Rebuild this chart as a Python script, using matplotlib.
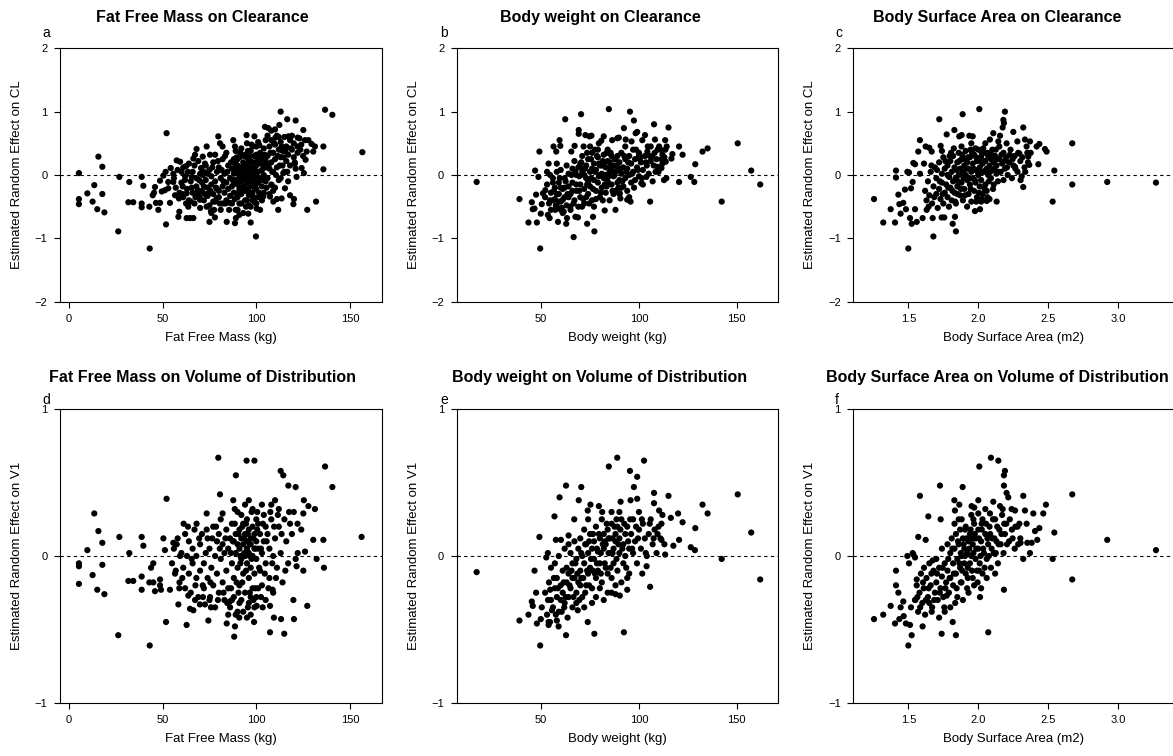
import matplotlib
matplotlib.use("Agg")
import matplotlib.pyplot as plt
from matplotlib.ticker import FormatStrFormatter

plt.rcParams['font.family'] = ['Liberation Sans', 'DejaVu Sans']

# (covariate, random effect) pairs

ffm_cl = [
    (5.3,.03),(5.3,-.38),(5.3,-.46),(9.8,-.29),(12.6,-.42),(13.5,-.16),(15.1,-.54),(15.7,.29),(17.8,.13),(17.8,-.30),
    (18.9,-.59),(26.3,-.89),(26.9,-.03),(32.2,-.11),(31.7,-.43),(34.3,-.43),(38.8,-.03),(39.7,-.17),(38.8,-.45),(38.8,-.51),
    (42.9,-.50),(43.1,-1.16),(44.7,-.32),(45.4,-.28),(45.9,-.19),(46.4,-.44),(47.7,-.55),(48.6,-.44),(48.6,-.09),(49.5,-.26),
    (50.4,-.01),(51.6,.05),(52.1,.66),(51.8,-.78),(53.0,-.11),(53.9,-.44),(54.3,.11),(55.7,.02),(51.2,-.24),(53.0,-.21),
    (55.7,-.11),(56.6,-.32),(57.5,.23),(58.7,-.37),(58.4,-.66),(59.3,.21),(58.9,-.58),(60.1,.05),(60.7,-.18),(61.9,-.08),
    (62.5,.14),(62.8,-.29),(63.7,-.50),(62.8,-.68),(64.6,-.68),(66.4,-.68),(65.5,-.03),(65.0,-.42),(66.4,.26),(67.3,.32),
    (68.1,.41),(68.7,-.24),(69.6,-.34),(69.9,-.39),(70.5,.11),(71.4,.29),(72.6,.18),(73.5,.45),(74.4,-.29),(75.0,-.74),
    (75.3,.32),(75.8,-.57),(77.0,-.42),(77.9,-.67),(78.8,-.37),(79.7,.61),(80.6,.50),(82.0,.45),(83.3,.30),(84.2,-.74),
    (85.9,-.44),(87.7,.55),(88.6,.45),(88.6,-.76),(89.1,-.68),(90.0,-.55),(90.9,-.63),(94.8,.63),(95.7,-.61),(97.0,-.75),
    (99.0,.61),(99.8,-.97),(100.2,-.53),(101.6,.47),(103.7,-.34),(104.6,.76),(106.4,.74),(107.3,-.34),(108.2,-.16),(109.1,-.42),
    (110.2,.59),(111.7,-.55),(112.3,.79),(113.0,1.00),(113.5,-.37),(114.4,.03),(115.3,-.21),(116.5,.88),(117.1,.61),(118.0,-.32),
    (119.8,-.46),(120.1,-.38),(120.6,.18),(121.0,.86),(122.1,.59),(121.9,.45),(121.5,-.03),(124.2,.11),(125.1,.71),(125.4,.03),
    (126.3,.24),(126.9,.37),(127.2,-.55),(127.8,.55),(129.5,.49),(130.4,.37),(131.3,.45),(131.9,-.42),(135.8,.45),(135.8,.09),
    (136.7,1.03),(140.6,.95),(156.6,.36),
    (56,-.05),(57,-.20),(58,.08),(59,-.28),(60,-.12),(61,.12),(61,-.35),(62,-.02),(63,-.22),(64,.18),
    (64,-.40),(65,-.10),(66,.05),(66,-.28),(67,-.45),(67,.15),(68,-.05),(68,-.18),(69,.22),(69,-.30),
    (70,-.52),(70,.02),(71,-.12),(71,-.25),(72,.05),(72,-.40),(73,.15),(73,-.08),(74,-.20),(74,-.33),
    (75,.08),(75,-.48),(76,-.02),(76,-.15),(77,.20),(77,-.30),(78,-.10),(78,-.42),(79,.05),(79,-.22),
    (80,-.35),(80,.12),(81,-.05),(81,-.55),(82,.25),(82,-.18),(83,-.28),(83,.02),(84,-.12),(84,-.40),
    (85,.15),(85,-.22),(76,-.60),(78,.32),(80,-.25),(82,-.45),(84,.35),(74,.02),(72,-.18),(70,-.38),
    (86,-.05),(86,-.33),(87,.10),(87,-.18),(87,-.45),(88,.02),(88,.25),(88,-.28),(89,-.08),(89,.38),
    (89,-.55),(90,.15),(90,-.15),(90,-.35),(90,.05),(91,.28),(91,-.02),(91,-.22),(91,-.45),(92,.12),
    (92,-.10),(92,.42),(92,-.30),(93,.05),(93,.20),(93,-.18),(93,-.60),(94,-.05),(94,.32),(94,-.25),
    (94,.10),(95,.00),(95,.18),(95,-.12),(95,-.40),(95,.50),(96,.08),(96,-.20),(96,.25),(96,-.32),
    (97,-.05),(97,.12),(97,.38),(97,-.50),(98,.02),(98,.20),(98,-.15),(98,-.28),(99,.10),(99,-.08),
    (99,.30),(99,-.42),(100,.15),(100,-.02),(100,.45),(100,-.22),(101,.05),(101,.25),(101,-.35),(101,-.12),
    (102,.18),(102,-.05),(102,.35),(102,-.55),(103,.08),(103,-.18),(103,.28),(104,.00),(104,.42),(104,-.28),
    (105,.12),(105,-.10),(105,.55),(105,.22),(93,.00),(94,-.40),(96,-.48),(97,.22),(98,.45),(99,-.20),
    (95,.28),(92,.00),(91,.10),(90,.25),(89,.18),(88,-.12),(100,.32),(101,.52),(103,-.40),(104,.15),
    (97,-.30),(96,-.05),(94,.15),(92,-.45),(98,-.40),(100,-.45),(102,-.30),
    (106,.30),(106,-.05),(107,.45),(107,.10),(108,.20),(108,-.15),(108,.55),(109,.05),(109,.35),(110,.25),
    (110,-.20),(110,.48),(111,.12),(111,.62),(112,.40),(112,-.08),(113,.28),(113,.52),(114,.15),(114,.38),
    (115,.05),(115,.60),(116,.22),(116,.45),(117,.32),(117,-.10),(118,.55),(118,.15),(119,.40),(119,.62),
    (120,.28),(120,.50),(121,.10),(122,.35),(123,.58),(124,.48),(125,.30),(126,.55),(107,-.30),(109,-.25),
    (111,-.38),(113,-.05),(106,.62),(108,.70),(110,.72),(112,.60),
    (60.5,-.30),(62.5,-.45),(63.5,.05),(65.5,-.20),(67.5,-.35),(69.5,-.08),(71.5,.00),(72.5,-.30),(73.5,-.50),(75.5,-.25),
    (76.5,.12),(77.5,-.55),(78.5,-.20),(79.5,.22),(80.5,-.45),(81.5,.08),(82.5,-.10),(83.5,-.45),(84.5,.05),(85.5,-.55),
    (86.5,.20),(87.5,-.08),(88.5,-.38),(89.5,.05),(90.5,-.28),(91.5,.35),(92.5,-.20),(93.5,.12),(94.5,-.50),(95.5,.38),
    (96.5,-.10),(97.5,.02),(98.5,-.35),(99.5,.20),(100.5,.05),(101.5,-.28),(102.5,.25),(103.5,-.08),(104.5,.32),(105.5,-.20),
    (106.5,.15),(107.5,.35),(108.5,.05),(109.5,.50),(110.5,.00),(111.5,.30),(112.5,.15),(113.5,.45),(114.5,.28),(115.5,.38),
    (116.5,.05),(118.5,.42),(120.5,.20),(123.5,.40),(93.5,.30),(95.5,-.25),(97.5,.48),(99.5,-.15),(91.5,-.10),(89.5,.28),
    (88.5,.12),(96.5,.30),(98.5,.10),(100.5,-.12),(94.5,.05),
]

bw_cl = [
    (17.0,-.11),(38.9,-.38),(43.5,-.75),(45.2,-.43),(45.7,-.54),(46.6,-.53),(46.9,.07),(47.4,-.31),(47.8,-.75),(48.6,-.03),
    (49.1,.37),(49.5,-1.16),(49.8,-.61),(50.3,-.46),(50.9,-.29),(52.1,-.24),(53.0,.05),(53.4,-.63),(53.8,.18),(54.3,-.68),
    (54.6,.00),(56.0,-.12),(56.3,.45),(57.2,-.55),(57.7,.37),(58.0,.18),(58.6,-.74),(58.9,-.42),(59.4,.55),(59.8,.46),
    (60.1,-.55),(61.1,-.39),(61.5,-.58),(62.3,.88),(62.8,-.77),(63.2,-.68),(64.9,-.50),(65.4,.37),(66.6,-.98),(67.1,.46),
    (67.5,-.66),(68.8,-.67),(69.2,.71),(69.2,.65),(70.4,.96),(70.9,-.50),(71.7,.45),(72.6,.63),(73.5,-.77),(74.7,.61),
    (75.7,.62),(76.5,-.66),(77.2,-.89),(79.5,.50),(80.7,.54),(82.0,.61),(82.5,-.56),(84.6,1.04),(85.1,.34),(86.3,.55),
    (88.0,-.55),(88.9,.58),(89.7,.59),(90.2,-.29),(90.5,-.37),(92.3,.74),(93.2,.56),(94.0,-.39),(95.4,1.00),(95.7,-.42),
    (96.2,.53),(97.4,.86),(98.3,.66),(99.1,.68),(100.0,.30),(101.2,-.13),(101.7,.55),(103.1,.63),(103.8,-.03),(104.3,.37),
    (105.7,-.42),(106.0,.45),(106.8,.29),(107.7,.80),(108.2,.56),(109.4,.13),(110.3,.45),(111.5,.11),(112.0,.32),(112.8,-.08),
    (113.4,.55),(113.7,.21),(114.2,.45),(115.1,.75),(116.6,.26),(117.1,.33),(120.5,.45),(120.5,-.11),(122.3,.32),(126.5,-.03),
    (128.3,-.11),(128.8,.17),(132.5,.37),(135.1,.42),(142.3,-.42),(150.5,.50),(157.4,.07),(162.0,-.15),
    (52,-.35),(53,-.15),(54,-.45),(55,-.28),(55,-.55),(56,-.05),(57,-.38),(57,-.20),(58,.05),(58,-.50),
    (59,-.30),(59,-.12),(60,-.42),(60,.08),(61,-.22),(61,-.60),(62,-.05),(62,-.35),(63,.15),(63,-.48),
    (64,-.18),(64,.02),(65,-.30),(65,-.55),(66,.10),(66,-.12),(67,-.40),(67,.22),(68,-.25),(68,.00),
    (69,-.50),(69,.12),(70,-.15),(70,-.35),(71,.05),(71,.30),(72,-.22),(72,-.45),(73,.15),(73,-.05),
    (74,-.30),(74,.25),(75,.05),(75,-.18),(76,.35),(76,-.40),(77,-.08),(77,.18),(78,-.25),(78,.08),
    (79,.28),(79,-.12),(80,-.35),(80,.15),(81,.02),(81,-.20),(82,.32),(82,-.05),(83,.12),(83,-.28),
    (84,.22),(84,-.10),(85,.05),(85,-.40),(86,.30),(86,-.15),(87,.15),(87,-.02),(88,-.25),(88,.25),
    (89,.08),(89,-.12),(90,.20),(90,-.30),(91,.02),(91,.35),(92,-.18),(92,.12),(93,.25),(93,-.05),
    (94,.10),(94,-.25),(95,.30),(95,.00),(96,.18),(96,-.12),(97,.40),(97,.05),(98,-.08),(98,.25),
    (99,.12),(100,-.02),(100,.35),(101,.20),(102,.08),(102,-.15),(103,.30),(104,.15),(105,.02),(106,.22),
    (107,-.10),(108,.35),(109,.25),(110,.05),(111,.40),(112,.18),(113,.28),(114,-.05),
    (72,.00),(74,-.12),(76,.10),(78,-.38),(80,.00),(82,.18),(84,.40),(86,.08),(88,.05),(90,-.08),
    (79,.40),(77,-.50),(75,.45),(73,-.35),(85,.20),(87,-.30),(83,.00),(81,.15),(89,.30),(91,-.20),
    (93,.45),(95,-.35),(70,.18),(68,-.15),(66,-.25),(64,-.35),(62,-.20),(60,-.20),(58,-.30),(56,-.40),
    (54.5,-.40),(56.5,-.25),(57.5,-.48),(59.5,-.05),(60.5,-.52),(62.5,-.10),(63.5,-.30),(65.5,.00),(66.5,-.45),(67.5,.05),
    (69.5,-.25),(70.5,.20),(71.5,-.38),(72.5,.10),(73.5,-.15),(74.5,-.45),(75.5,.25),(76.5,-.22),(77.5,.05),(78.5,.30),
    (79.5,-.02),(80.5,-.28),(81.5,.22),(82.5,-.15),(83.5,.35),(84.5,-.02),(85.5,.12),(86.5,-.25),(87.5,.25),(88.5,.15),
    (89.5,-.20),(90.5,.10),(91.5,-.10),(92.5,.30),(93.5,.05),(94.5,.20),(96.5,.02),(97.5,-.20),(98.5,.40),(99.5,.08),
    (100.5,.25),(101.5,-.05),(103.5,.20),(104.5,.45),(105.5,.30),(107.5,.15),(108.5,.05),(109.5,.40),(111.5,.25),(113.5,.40),
    (75.5,-.05),(77.5,.40),(79.5,.18),(81.5,-.40),(83.5,-.18),(85.5,.35),(87.5,.00),(71.5,.10),(73.5,.35),(69.5,-.02),
]

bsa_cl = [
    (1.255,-.38),(1.321,-.75),(1.374,-.54),(1.405,-.75),(1.412,.07),(1.412,-.04),(1.429,-.31),(1.436,-.46),(1.445,-.61),(1.464,-.44),
    (1.476,-.23),(1.483,-.54),(1.493,.05),(1.500,-1.16),(1.505,.04),(1.512,-.68),(1.519,-.21),(1.524,-.77),(1.531,-.11),(1.536,.19),
    (1.548,.17),(1.548,-.54),(1.560,-.74),(1.571,.37),(1.583,.55),(1.583,.02),(1.602,-.68),(1.612,.18),(1.624,.45),(1.631,-.55),
    (1.650,.43),(1.667,.37),(1.674,-.68),(1.679,-.97),(1.721,.88),(1.731,.46),(1.738,-.67),(1.757,-.67),(1.774,.64),(1.793,-.03),
    (1.817,-.77),(1.829,.71),(1.833,-.66),(1.840,-.89),(1.864,.61),(1.881,.63),(1.888,.96),(1.936,.62),(1.960,.61),(1.976,-.57),
    (2.007,1.04),(2.012,-.54),(2.024,.35),(2.060,-.41),(2.083,.56),(2.107,.66),(2.131,-.42),(2.143,.53),(2.155,.62),(2.174,.75),
    (2.179,.87),(2.190,1.00),(2.183,.82),(2.202,.50),(2.250,.68),(2.262,.13),(2.279,.53),(2.293,.34),(2.302,-.08),(2.321,.75),
    (2.321,-.19),(2.333,.56),(2.345,.45),(2.357,.29),(2.364,.16),(2.369,.53),(2.374,.35),(2.417,.45),(2.429,.17),(2.436,.49),
    (2.476,.41),(2.488,.37),(2.531,-.42),(2.543,.07),(2.671,.50),(2.671,-.15),(2.921,-.11),(3.269,-.12),
    (1.62,-.25),(1.63,-.40),(1.64,-.10),(1.65,-.32),(1.66,.05),(1.67,-.45),(1.68,-.18),(1.69,.12),(1.70,-.30),(1.70,-.05),
    (1.71,-.52),(1.72,.20),(1.72,-.22),(1.73,-.38),(1.74,.02),(1.74,-.12),(1.75,.28),(1.75,-.45),(1.76,-.28),(1.76,.10),
    (1.77,-.15),(1.78,.15),(1.78,-.35),(1.79,-.02),(1.79,-.50),(1.80,.22),(1.80,-.20),(1.81,.05),(1.81,-.40),(1.82,-.10),
    (1.82,.30),(1.83,-.28),(1.83,.12),(1.84,-.05),(1.84,-.45),(1.85,.20),(1.85,-.18),(1.86,.00),(1.86,.35),(1.87,-.32),
    (1.87,.10),(1.88,-.12),(1.88,.25),(1.89,-.40),(1.89,.05),(1.90,.15),(1.90,-.22),(1.91,.00),(1.91,.38),(1.92,-.08),
    (1.92,.20),(1.93,-.30),(1.93,.10),(1.94,.28),(1.94,-.15),(1.95,.05),(1.95,-.42),(1.96,.18),(1.96,-.05),(1.97,.32),
    (1.97,-.25),(1.98,.08),(1.98,-.12),(1.99,.22),(1.99,-.35),(2.00,.00),(2.00,.40),(2.01,-.18),(2.01,.12),(2.02,.28),
    (2.02,-.08),(2.03,.18),(2.03,-.30),(2.04,.05),(2.04,.35),(2.05,-.15),(2.05,.22),(2.06,.10),(2.06,-.25),(2.07,.30),
    (2.07,.00),(2.08,.15),(2.08,-.38),(2.09,.25),(2.09,-.05),(2.10,.40),(2.10,.08),(2.11,-.15),(2.11,.20),(2.12,.30),
    (2.13,.02),(2.13,.15),(2.14,-.10),(2.15,.25),(2.15,.45),(2.16,.05),(2.17,.18),(2.18,-.08),(2.18,.35),(2.19,.10),
    (2.20,.28),(2.21,.00),(2.22,.20),(2.23,.40),(2.24,-.05),(2.25,.15),(2.26,.30),(2.28,.05),(2.30,.22),(2.31,-.02),
    (2.33,.12),(2.35,.35),(1.92,-.50),(1.95,.50),(1.88,.45),(1.85,-.30),(2.02,-.42),(1.98,.42),(2.05,.50),(1.78,.00),
    (1.74,.38),
    (1.645,-.50),(1.665,.15),(1.685,-.35),(1.705,.08),(1.725,-.10),(1.745,-.30),(1.765,.22),(1.785,-.20),(1.805,.35),(1.815,-.25),
    (1.835,-.42),(1.845,.08),(1.855,-.10),(1.865,.22),(1.875,-.22),(1.885,.32),(1.895,-.05),(1.905,-.32),(1.915,.10),(1.925,.28),
    (1.935,-.05),(1.945,-.22),(1.955,.35),(1.965,.10),(1.975,-.08),(1.985,.28),(1.995,.05),(2.005,-.28),(2.015,.22),(2.025,.05),
    (2.035,.42),(2.045,-.22),(2.055,.08),(2.065,.35),(2.075,-.10),(2.085,.05),(2.095,.32),(2.105,-.22),(2.115,.10),(2.125,.40),
    (2.135,.25),(2.145,.05),(2.165,.32),(2.185,.22),(2.205,.12),(2.225,.32),(2.245,.25),(2.265,.10),(2.285,.35),(2.315,.28),
    (2.335,.05),(2.355,.20),(1.905,.25),(1.945,.40),(1.985,-.42),(2.025,-.38),(2.065,-.35),(1.825,.42),(1.795,.30),
]

ffm_v1 = [
    (5.3,-.05),(5.3,-.07),(5.3,-.19),(9.8,.04),(12.6,-.13),(13.5,.29),(15.1,-.23),(15.7,.17),(17.8,.09),(17.8,-.06),
    (18.9,-.26),(26.3,-.54),(26.9,.13),(32.2,.02),(31.7,-.17),(34.3,-.17),(38.8,.13),(39.7,.07),(38.8,-.14),(38.8,-.23),
    (42.9,-.18),(43.1,-.61),(45.0,-.18),(45.9,-.24),(43.8,-.08),(45.0,-.05),(48.6,-.16),(48.6,-.20),(49.1,-.23),(50.4,.12),
    (51.2,.04),(52.1,.39),(51.8,-.45),(53.9,-.23),(55.7,.09),(56.6,-.12),(58.4,-.33),(58.9,-.22),(59.3,.00),(61.2,.22),
    (62.8,-.47),(63.7,-.27),(64.6,-.36),(66.4,-.37),(67.3,-.30),(68.1,.22),(69.9,-.33),(71.4,-.20),(72.6,-.33),(73.5,.29),
    (74.4,-.44),(75.3,-.28),(75.8,-.35),(79.7,.67),(80.6,.42),(82.0,.29),(84.2,-.46),(85.9,-.31),(87.7,.38),(88.6,-.48),
    (88.2,-.55),(89.1,.55),(90.0,-.38),(90.9,-.42),(94.8,.65),(97.0,-.40),(99.0,.65),(98.8,-.45),(100.2,-.34),(103.4,-.35),
    (107.3,-.34),(107.3,-.52),(108.7,-.23),(109.4,-.42),(113.0,.58),(113.2,-.43),(114.4,.55),(114.9,-.53),(117.1,.48),(119.8,-.30),
    (120.1,-.43),(121.0,.47),(121.0,-.02),(121.5,-.07),(122.1,.02),(125.1,.29),(125.1,-.10),(125.4,.38),(126.0,.03),(127.2,-.34),
    (127.8,.34),(130.4,.11),(131.3,.32),(132.2,-.02),(135.8,.11),(136.1,-.08),(136.7,.61),(140.6,.47),(156.2,.13),
    (55,-.05),(56,.05),(57,-.10),(58,.12),(59,-.18),(60,.02),(61,-.08),(62,.15),(62,-.22),(63,.00),
    (64,-.12),(64,.10),(65,-.25),(66,.05),(66,-.05),(67,.18),(68,-.15),(68,.00),(69,-.28),(70,.08),
    (70,-.10),(71,.15),(72,-.05),(72,-.22),(73,.02),(74,.12),(74,-.15),(75,-.30),(75,.05),(76,-.08),
    (77,.20),(77,-.20),(78,.00),(78,-.35),(79,.10),(79,-.12),(80,-.25),(80,.15),(81,-.02),(81,.25),
    (82,-.18),(82,.08),(83,-.30),(83,.02),(84,.18),(84,-.10),(85,.05),(85,-.22),(86,.12),(86,-.35),
    (87,-.05),(87,.22),(88,.10),(88,-.15),(88,-.28),(89,.02),(89,.15),(90,-.08),(90,.30),(90,.08),
    (91,-.20),(91,.05),(91,.18),(92,-.02),(92,.12),(92,-.30),(93,.08),(93,.22),(93,-.12),(94,.00),
    (94,.15),(94,-.25),(95,.05),(95,.10),(95,-.05),(95,.25),(96,.02),(96,.18),(96,-.15),(96,-.32),
    (97,.08),(97,.12),(97,-.08),(98,.00),(98,.20),(98,-.22),(99,.05),(99,.15),(99,-.12),(100,.10),
    (100,-.02),(100,-.28),(101,.22),(101,.05),(102,-.10),(102,.15),(103,.02),(103,-.20),(104,.28),(104,.10),
    (105,-.05),(105,-.30),(106,.15),(107,.05),(107,-.15),(108,.25),(108,.35),(109,.00),(109,-.25),(110,.12),
    (110,.38),(111,-.08),(112,.20),(112,.32),(113,.02),(114,-.18),(115,.25),(116,.10),(117,-.05),(118,.22),
    (119,.15),(120,.30),(122,.22),(124,.18),(93,-.38),(95,-.42),(97,-.28),(99,-.35),(101,-.22),(89,-.40),
    (91,-.32),(87,-.30),(85,-.40),(94,.35),(96,.38),(98,.32),(92,.28),(100,.25),(103,.35),(105,.20),
    (57.5,.08),(60.5,-.15),(63.5,.20),(65.5,-.02),(67.5,-.20),(69.5,.12),(71.5,-.28),(73.5,.18),(75.5,-.18),(76.5,.12),
    (78.5,.20),(79.5,-.30),(80.5,.05),(82.5,-.25),(83.5,.12),(84.5,-.32),(86.5,.02),(87.5,.10),(88.5,.22),(89.5,-.18),
    (90.5,.15),(91.5,-.05),(92.5,.20),(93.5,.02),(94.5,-.10),(95.5,.15),(96.5,.08),(97.5,-.02),(98.5,.12),(99.5,-.22),
    (100.5,.18),(101.5,-.08),(102.5,.05),(103.5,.22),(104.5,-.12),(105.5,.10),(106.5,-.22),(107.5,.30),(108.5,-.05),(109.5,.20),
    (110.5,-.15),(111.5,.28),(113.5,.15),(115.5,-.10),(117.5,.30),(94.5,.22),(96.5,-.25),(92.5,-.18),(90.5,-.25),(98.5,-.30),
    (100.5,.30),(88.5,.32),(86.5,-.22),(102.5,-.28),(95.5,-.35),(97.5,.30),(93.5,.12),(91.5,.00),(99.5,.05),(96.5,.00),
]

bw_v1 = [
    (17.0,-.11),(38.9,-.44),(43.5,-.40),(45.2,-.31),(45.7,-.34),(46.6,-.10),(47.4,-.25),(47.8,-.46),(49.1,.13),(49.5,-.61),
    (49.8,-.43),(50.3,-.35),(52.6,-.01),(53.4,.02),(53.8,-.45),(53.8,-.47),(54.6,-.23),(55.5,-.37),(56.8,.27),(57.5,.11),
    (58.0,-.44),(58.9,-.48),(59.4,.40),(60.1,.11),(61.8,-.35),(62.7,.48),(62.7,-.54),(64.0,.14),(66.9,.25),(68.7,-.37),
    (69.2,.38),(70.5,.47),(73.8,-.45),(73.8,.31),(75.2,.35),(77.2,-.53),(79.5,.34),(81.2,.30),(84.6,.61),(86.0,-.25),
    (88.0,-.26),(88.9,.67),(90.2,-.27),(90.6,.37),(92.3,-.52),(94.0,-.23),(95.4,.58),(95.7,.38),(97.4,.47),(99.1,.54),
    (99.1,.39),(100.0,.30),(101.7,-.12),(102.6,.65),(103.9,-.07),(105.7,-.21),(107.7,.36),(107.7,.43),(110.3,.31),(111.5,.11),
    (113.4,.01),(115.1,.41),(116.3,.26),(117.6,.07),(120.0,.29),(120.5,.11),(122.3,.23),(126.5,.06),(128.6,.04),(128.8,.19),
    (132.5,.35),(135.1,.29),(142.3,-.02),(150.5,.42),(157.4,.16),(162.0,-.16),
    (52,-.25),(53,-.40),(54,-.18),(55,-.30),(55,-.08),(56,-.35),(57,-.22),(57,-.05),(58,-.28),(58,-.15),
    (59,-.38),(59,.00),(60,-.20),(60,-.30),(61,-.10),(61,-.25),(62,-.32),(62,.05),(63,-.18),(63,-.08),
    (64,-.28),(64,-.12),(65,.02),(65,-.22),(66,-.35),(66,-.05),(67,-.15),(67,.10),(68,-.25),(68,-.02),
    (69,-.18),(69,.05),(70,-.10),(70,.12),(71,-.28),(71,.00),(72,-.05),(72,.18),(73,-.20),(73,.08),
    (74,-.12),(74,.02),(75,.15),(75,-.08),(76,-.22),(76,.05),(77,.10),(77,-.02),(78,-.15),(78,.20),
    (79,.03),(79,-.10),(80,.12),(80,-.05),(81,.25),(81,-.18),(82,.05),(82,.15),(83,-.08),(83,.08),
    (84,.18),(84,-.12),(85,.02),(85,.12),(86,-.15),(86,.22),(87,.05),(87,-.05),(88,.15),(88,.10),
    (89,-.10),(89,.20),(90,.02),(90,.12),(91,-.18),(91,.25),(92,.08),(92,-.05),(93,.15),(93,.00),
    (94,.20),(95,.05),(95,-.12),(96,.15),(97,.25),(97,.02),(98,.10),(99,-.05),(100,.18),(101,.05),
    (102,.22),(103,.12),(104,.00),(105,.15),(106,.25),(107,.08),(108,.18),(109,.02),(110,.20),(111,.12),
    (112,.28),(113,.08),(76,-.32),(78,-.28),(80,-.22),(84,-.25),(86,.30),(74,.25),(70,-.20),(66,-.15),
    (64,.08),(82,-.30),(88,-.20),(90,.30),(94,-.15),(72,-.35),(68,-.32),
    (53.5,-.30),(54.5,-.45),(56.5,-.15),(57.5,-.40),(58.5,-.22),(60.5,-.38),(61.5,-.18),(62.5,-.28),(63.5,-.42),(64.5,-.20),
    (65.5,-.10),(66.5,-.28),(67.5,-.05),(68.5,-.12),(69.5,-.30),(70.5,.02),(71.5,-.15),(72.5,.08),(73.5,-.10),(74.5,.10),
    (75.5,-.02),(76.5,.15),(77.5,-.12),(78.5,.05),(79.5,.15),(80.5,-.12),(81.5,.08),(82.5,-.05),(83.5,.22),(84.5,.02),
    (85.5,-.08),(86.5,.12),(87.5,.20),(88.5,-.02),(89.5,.08),(90.5,.18),(91.5,.05),(92.5,.22),(93.5,-.08),(94.5,.10),
    (95.5,.25),(96.5,.05),(98.5,.20),(99.5,.12),(101.5,.25),(103.5,.02),(105.5,.22),(107.5,.12),(109.5,.15),(111.5,.22),
    (78.5,-.05),(80.5,.02),(82.5,.10),(84.5,.12),(86.5,.02),(88.5,.25),(76.5,-.10),(74.5,-.20),(72.5,-.25),(70.5,-.15),
]

bsa_v1 = [
    (1.255,-.43),(1.321,-.40),(1.374,-.34),(1.405,-.46),(1.412,-.10),(1.412,-.20),(1.429,-.25),(1.436,-.43),(1.445,-.35),(1.464,-.31),
    (1.467,-.41),(1.483,-.46),(1.493,.00),(1.500,-.61),(1.505,-.05),(1.512,-.47),(1.519,-.35),(1.524,-.54),(1.531,.02),(1.536,.01),
    (1.548,-.01),(1.548,-.30),(1.560,-.16),(1.571,.13),(1.583,.41),(1.602,-.48),(1.612,-.08),(1.624,.11),(1.643,.27),(1.650,-.32),
    (1.667,-.38),(1.674,-.03),(1.726,.48),(1.731,.25),(1.738,-.53),(1.757,-.35),(1.774,-.27),(1.817,-.45),(1.829,.38),(1.833,.31),
    (1.840,-.54),(1.864,.35),(1.881,.25),(1.888,.47),(1.952,.34),(1.971,.33),(2.000,.38),(2.007,.61),(2.000,.29),(2.012,-.28),
    (2.024,.22),(2.071,-.52),(2.083,.29),(2.090,.67),(2.107,.37),(2.143,.65),(2.155,.34),(2.174,.32),(2.183,.55),(2.190,.58),
    (2.183,.48),(2.183,-.23),(2.202,.43),(2.214,.40),(2.238,.32),(2.262,.31),(2.293,.22),(2.302,.09),(2.321,.41),(2.321,-.02),
    (2.333,.31),(2.345,.22),(2.350,.09),(2.369,.02),(2.381,.09),(2.393,.29),(2.405,.17),(2.421,.11),(2.436,.19),(2.464,.29),
    (2.483,.35),(2.531,-.02),(2.543,.16),(2.671,.42),(2.671,-.16),(2.921,.11),(3.269,.04),
    (1.55,-.30),(1.56,-.20),(1.57,-.38),(1.58,-.25),(1.59,-.12),(1.60,-.32),(1.61,-.22),(1.62,-.40),(1.63,-.15),(1.64,-.28),
    (1.65,-.05),(1.66,-.20),(1.67,-.35),(1.68,-.10),(1.69,-.25),(1.70,-.02),(1.70,-.18),(1.71,-.30),(1.72,-.08),(1.73,-.22),
    (1.74,.05),(1.74,-.14),(1.75,-.28),(1.76,-.05),(1.77,-.18),(1.78,.08),(1.78,-.10),(1.79,-.25),(1.80,.02),(1.80,-.15),
    (1.81,.12),(1.82,-.05),(1.82,-.20),(1.83,.05),(1.84,-.12),(1.84,.15),(1.85,-.02),(1.85,-.28),(1.86,.08),(1.87,-.08),
    (1.87,.18),(1.88,.00),(1.88,-.18),(1.89,.12),(1.90,-.05),(1.90,.05),(1.91,-.12),(1.91,.20),(1.92,.02),(1.92,-.22),
    (1.93,.10),(1.94,-.05),(1.94,.15),(1.95,.00),(1.96,-.15),(1.96,.08),(1.97,.22),(1.98,-.02),(1.98,.12),(1.99,-.10),
    (2.00,.05),(2.00,.18),(2.01,-.05),(2.02,.10),(2.03,.25),(2.03,-.12),(2.04,.02),(2.05,.15),(2.06,-.02),(2.07,.08),
    (2.08,.20),(2.09,-.08),(2.10,.12),(2.11,.02),(2.12,.25),(2.13,.10),(2.14,-.05),(2.15,.18),(2.16,.08),(2.17,.28),
    (2.18,.02),(2.19,.15),(2.20,.22),(2.22,.10),(2.24,.18),(2.26,.05),(2.28,.20),(2.30,.12),(1.89,-.30),(1.93,-.25),
    (1.97,-.20),(2.02,-.22),(2.06,-.15),(1.86,.25),(1.95,.28),(2.05,.32),(1.80,-.35),(1.76,-.38),(1.72,-.42),(2.12,-.12),
    (1.83,.22),
    (1.565,-.28),(1.585,-.35),(1.605,-.18),(1.625,-.30),(1.645,-.22),(1.665,-.12),(1.685,-.30),(1.705,-.12),(1.725,-.25),(1.745,-.08),
    (1.765,-.22),(1.785,-.02),(1.795,-.15),(1.815,.05),(1.825,-.12),(1.845,-.22),(1.855,.10),(1.865,-.05),(1.875,.02),(1.885,-.10),
    (1.895,.08),(1.905,.00),(1.915,.12),(1.925,-.08),(1.935,.05),(1.945,.18),(1.955,-.10),(1.965,.02),(1.975,.15),(1.985,.05),
    (1.995,-.18),(2.005,.12),(2.015,.00),(2.025,.18),(2.035,.05),(2.045,-.08),(2.055,.22),(2.065,.12),(2.075,.00),(2.085,.15),
    (2.095,.05),(2.105,.25),(2.115,.12),(2.125,.02),(2.135,.20),(2.145,.08),(2.165,.15),(2.185,.22),(2.205,.08),(2.225,.25),
    (2.245,.12),(2.265,.20),(2.285,.08),(1.905,.18),(1.955,.12),(2.005,-.10),(1.835,-.32),(1.875,-.18),(1.925,-.15),(1.965,.25),
]

W, H = 1173, 756
fig = plt.figure(figsize=(W / 100, H / 100), dpi=100)

# pixel boxes of the plot frames
cols = [(60, 382), (456.7, 778), (853.3, 1174.3)]
rows = [(48.3, 301.7), (409.3, 702.7)]
title_x = [202.5, 600, 997]
title_y = [17.5, 377.5]
letter_x = [42, 440, 835]
letter_y = [37, 404]

panels = [
    ("a", "Fat Free Mass on Clearance", "Fat Free Mass (kg)", "Estimated Random Effect on CL",
     ffm_cl, (-4.8, 167.1), [0, 50, 100, 150], (-2, 2), [-2, -1, 0, 1, 2]),
    ("b", "Body weight on Clearance", "Body weight (kg)", "Estimated Random Effect on CL",
     bw_cl, (6.8, 171.1), [50, 100, 150], (-2, 2), [-2, -1, 0, 1, 2]),
    ("c", "Body Surface Area on Clearance", "Body Surface Area (m2)", "Estimated Random Effect on CL",
     bsa_cl, (1.107, 3.40), [1.5, 2.0, 2.5, 3.0], (-2, 2), [-2, -1, 0, 1, 2]),
    ("d", "Fat Free Mass on Volume of Distribution", "Fat Free Mass (kg)", "Estimated Random Effect on V1",
     ffm_v1, (-4.8, 167.1), [0, 50, 100, 150], (-1, 1), [-1, 0, 1]),
    ("e", "Body weight on Volume of Distribution", "Body weight (kg)", "Estimated Random Effect on V1",
     bw_v1, (6.8, 171.1), [50, 100, 150], (-1, 1), [-1, 0, 1]),
    ("f", "Body Surface Area on Volume of Distribution", "Body Surface Area (m2)", "Estimated Random Effect on V1",
     bsa_v1, (1.107, 3.40), [1.5, 2.0, 2.5, 3.0], (-1, 1), [-1, 0, 1]),
]

for i, (letter, title, xlab, ylab, pts, xlim, xticks, ylim, yticks) in enumerate(panels):
    r, c = divmod(i, 3)
    l, rt = cols[c]
    t, b = rows[r]
    ax = fig.add_axes([l / W, 1 - b / H, (rt - l) / W, (b - t) / H])
    xs, ys = zip(*pts)
    ax.scatter(xs, ys, s=20, color="black", edgecolors="none", zorder=3)
    ax.axhline(0, color="black", lw=0.8, ls=(0, (3, 3)), zorder=2)
    ax.set_xlim(*xlim)
    ax.set_ylim(*ylim)
    ax.set_xticks(xticks)
    ax.set_yticks(yticks)
    if c == 2:
        ax.xaxis.set_major_formatter(FormatStrFormatter("%.1f"))
    ax.tick_params(direction="out", length=4, width=0.8, labelsize=8, pad=5,
                   top=False, right=False)
    for sp in ax.spines.values():
        sp.set_linewidth(0.8)
    ax.set_xlabel(xlab, fontsize=9.5)
    ax.set_ylabel(ylab, fontsize=9.5)
    ax.xaxis.set_label_coords(0.5, -30.5 / (b - t))
    ax.yaxis.set_label_coords(-37 / (rt - l), 0.5)
    fig.text(title_x[c] / W, 1 - title_y[r] / H, title, fontsize=11.5,
             fontweight="bold", ha="center", va="center")
    fig.text(letter_x[c] / W, 1 - letter_y[r] / H, letter, fontsize=10,
             ha="left", va="baseline")

fig.savefig("out.png", dpi=100)
